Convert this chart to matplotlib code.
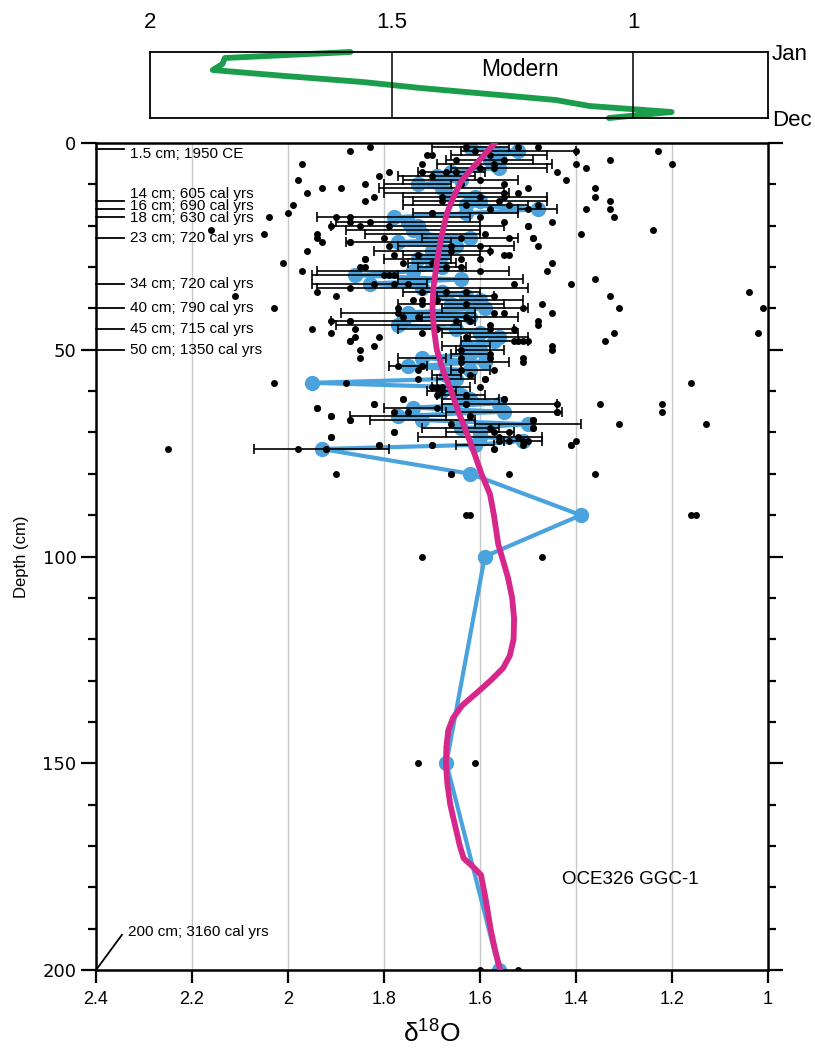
import matplotlib
matplotlib.use('Agg')
import matplotlib.pyplot as plt
import numpy as np

plt.rcParams['font.family'] = ['Liberation Sans', 'DejaVu Sans']

# monthly modern d18O (top panel)
months = [1, 2, 3, 4, 5, 6, 7, 8, 9, 10, 11, 12]
modern_d18o = [1.585, 1.845, 1.85, 1.87, 1.72, 1.56, 1.44, 1.30, 1.16, 1.09, 0.92, 1.05]

# depth-averaged d18O (blue) with 1 sd error
mean_depth = [1, 2, 3, 4, 5, 6, 7, 8, 9, 10, 11, 12, 13, 14, 15, 16, 17, 18, 19, 20,
              21, 22, 23, 24, 25, 26, 27, 28, 29, 30, 31, 32, 33, 34, 35, 36, 37, 38, 39, 40,
              41, 42, 43, 44, 45, 46, 47, 48, 49, 50, 51, 52, 53, 54, 55, 56, 57, 58, 59, 60,
              61, 62, 63, 64, 65, 66, 67, 68, 69, 70, 71, 72, 73, 74, 80, 90, 100, 150, 200]
mean_d18o = [1.62, 1.52, 1.56, 1.58, 1.57, 1.56, 1.66, 1.69, 1.64, 1.73, 1.68, 1.67, 1.61, 1.60, 1.63, 1.48, 1.63, 1.78, 1.75, 1.73,
             1.74, 1.72, 1.62, 1.77, 1.65, 1.70, 1.68, 1.73, 1.70, 1.68, 1.74, 1.86, 1.64, 1.83, 1.72, 1.68, 1.63, 1.60, 1.66, 1.59,
             1.75, 1.62, 1.76, 1.77, 1.65, 1.60, 1.56, 1.57, 1.63, 1.60, 1.62, 1.72, 1.59, 1.75, 1.62, 1.67, 1.65, 1.95, 1.66, 1.68,
             1.64, 1.62, 1.56, 1.74, 1.55, 1.77, 1.72, 1.50, 1.64, 1.60, 1.60, 1.51, 1.61, 1.93, 1.62, 1.39, 1.59, 1.67, 1.56]
mean_err = [0.08, 0.12, 0.10, 0.09, 0.12, 0.10, 0.07, 0.08, 0.12, 0.07, 0.13, 0.13, 0.15, 0.14, 0.13, 0.04, 0.11, 0.16, 0.15, 0.18,
            0.14, 0.12, 0.10, 0.11, 0.12, 0.12, 0.08, 0.07, 0.05, 0.05, 0.20, 0.09, 0.13, 0.12, 0.22, 0.08, 0.06, 0.09, 0.11, 0.09,
            0.14, 0.10, 0.15, 0.13, 0.12, 0.08, 0.06, 0.07, 0.05, 0.05, 0.04, 0.05, 0.05, 0.04, 0.04, 0.03, 0.04, 0.0, 0.04, 0.03,
            0.05, 0.06, 0.12, 0.06, 0.12, 0.10, 0.11, 0.11, 0.08, 0.07, 0.13, 0.04, 0.04, 0.14, 0.0, 0.0, 0.0, 0.0, 0.0]

# individual foraminifera measurements (black dots)
dot_depth = [1, 1, 1, 1, 2, 2, 2, 2, 3, 3, 3, 4, 4, 4, 5, 5, 5, 5, 5, 6, 6, 6,
             7, 7, 7, 7, 7, 8, 8, 9, 9, 9, 10, 10, 10, 11, 11, 11, 11, 12, 12, 12,
             13, 13, 13, 13, 13, 14, 14, 14, 14, 15, 15, 15, 15, 16, 16, 16, 16, 17, 17, 17,
             18, 18, 18, 18, 18, 19, 19, 19, 19, 20, 20, 20, 20, 20, 21, 21, 22, 22, 22, 22,
             23, 23, 23, 23, 23, 23, 24, 24, 24, 25, 25, 25, 25, 26, 26, 26, 27, 27, 27, 27,
             28, 28, 28, 28, 29, 29, 29, 29, 30, 30, 30, 30, 31, 31, 31, 32, 32, 32, 33,
             34, 34, 34, 34, 34, 35, 36, 36, 36, 36, 36, 37, 37, 37, 37, 38, 38, 38, 39, 39, 39,
             40, 40, 40, 40, 40, 41, 41, 41, 41, 42, 42, 42, 43, 43, 43, 43, 43, 43, 44, 44,
             45, 45, 45, 45, 45, 46, 46, 46, 46, 47, 47, 47, 48, 48, 48, 48, 48, 48, 48, 49, 49,
             50, 50, 50, 51, 52, 52, 52, 52, 53, 53, 54, 54, 54, 55, 55, 55, 56, 57, 57, 57,
             58, 58, 58, 59, 59, 59, 59, 60, 61, 61, 61, 62, 62, 62, 62, 63, 63, 63, 63, 63, 63, 63,
             64, 64, 64, 65, 65, 65, 65, 65, 66, 66, 66, 66, 67, 67, 67, 67, 68, 68, 68, 69, 69, 69,
             70, 70, 70, 70, 71, 71, 71, 71, 72, 72, 72, 72, 72, 73, 73, 73, 73, 73, 73, 73,
             74, 74, 74, 74, 74, 74, 80, 80, 80, 80, 80, 90, 90, 90, 90, 100, 100, 150, 150, 200, 200]
dot_d18o = [1.83, 1.52, 1.48, 1.63, 1.87, 1.40, 1.23, 1.61, 1.71, 1.70, 1.58, 1.65, 1.33, 1.55, 1.97, 1.72, 1.40, 1.20, 1.57, 1.38, 1.57, 1.60,
            1.79, 1.72, 1.67, 1.65, 1.44, 1.81, 1.70, 1.98, 1.60, 1.42, 1.84, 1.55, 1.64, 1.93, 1.89, 1.50, 1.36, 1.96, 1.55, 1.52,
            1.82, 1.60, 1.55, 1.36, 1.68, 1.84, 1.68, 1.56, 1.33, 1.99, 1.63, 1.54, 1.48, 1.58, 1.50, 1.38, 1.33, 2.00, 1.70, 1.70,
            2.04, 1.90, 1.87, 1.32, 1.60, 1.87, 1.83, 1.55, 1.45, 1.91, 1.85, 1.79, 1.50, 1.50, 2.16, 1.24, 2.05, 1.94, 1.59, 1.39,
            1.94, 1.80, 1.64, 1.54, 1.49, 1.49, 1.93, 1.87, 1.87, 1.79, 1.60, 1.48, 1.66, 1.96, 1.58, 1.66, 1.78, 1.55, 1.54, 1.73,
            1.84, 1.84, 1.64, 1.60, 2.01, 1.70, 1.76, 1.45, 1.84, 1.67, 1.85, 1.64, 1.97, 1.60, 1.46, 1.80, 1.79, 1.78, 1.36,
            1.82, 1.78, 1.75, 1.53, 1.41, 1.87, 1.94, 1.72, 1.67, 1.63, 1.04, 2.11, 1.90, 1.57, 1.33, 1.74, 1.72, 1.69, 1.72, 1.63, 1.47,
            2.03, 1.77, 1.51, 1.31, 1.01, 1.77, 1.55, 1.57, 1.45, 1.73, 1.76, 1.63, 1.91, 1.87, 1.87, 1.62, 1.65, 1.48, 1.58, 1.48,
            1.95, 1.86, 1.58, 1.69, 1.53, 1.91, 1.72, 1.32, 1.02, 1.81, 1.86, 1.63, 1.87, 1.87, 1.34, 1.53, 1.52, 1.51, 1.50, 1.82, 1.45,
            1.85, 1.64, 1.45, 1.58, 1.85, 1.64, 1.58, 1.51, 1.51, 1.64, 1.77, 1.72, 1.72, 1.73, 1.57, 1.64, 1.62, 1.73, 1.59, 1.59,
            2.03, 1.88, 1.16, 1.70, 1.69, 1.68, 1.60, 1.68, 1.69, 1.63, 1.63, 1.76, 1.55, 1.76, 1.55, 1.82, 1.63, 1.44, 1.35, 1.22, 1.82, 1.63,
            1.94, 1.94, 1.69, 1.44, 1.22, 1.44, 1.78, 1.75, 1.91, 1.62, 1.91, 1.62, 1.87, 1.49, 1.87, 1.49, 1.31, 1.13, 1.66, 1.49, 1.58, 1.49,
            1.78, 1.57, 1.54, 1.78, 1.91, 1.56, 1.52, 1.91, 1.40, 1.51, 1.56, 1.54, 1.50, 1.81, 1.70, 1.41, 1.70, 1.81, 1.51, 1.41,
            2.25, 1.98, 1.92, 1.57, 1.92, 1.57, 1.66, 1.54, 1.36, 1.90, 1.66, 1.63, 1.62, 1.16, 1.15, 1.72, 1.47, 1.73, 1.61, 1.60, 1.52]

# smoothed record (magenta)
smooth_depth = [0, 4, 9, 13, 17, 23, 29, 35, 40, 45, 50, 55, 60, 65, 70, 75, 80, 85, 90, 97, 105,
                110, 115, 120, 124, 127, 130, 133, 136, 139, 142, 146, 150, 155, 160, 165, 170, 173,
                175, 177, 183, 190, 195, 200]
smooth_d18o = [1.569, 1.600, 1.638, 1.655, 1.669, 1.681, 1.690, 1.697, 1.699, 1.696, 1.690, 1.677, 1.660, 1.645, 1.628, 1.612, 1.597, 1.579, 1.571, 1.562, 1.542,
               1.533, 1.529, 1.530, 1.538, 1.552, 1.578, 1.607, 1.637, 1.656, 1.666, 1.670, 1.671, 1.668, 1.662, 1.652, 1.642, 1.634,
               1.615, 1.598, 1.588, 1.578, 1.569, 1.558]

# age control points
age_depth = [1.5, 14, 16, 18, 23, 34, 40, 45, 50]
age_text_depth = [2.6, 12.4, 15.3, 18.2, 23, 34, 40, 45, 50]
age_labels = ['1.5 cm; 1950 CE', '14 cm; 605 cal yrs', '16 cm; 690 cal yrs', '18 cm; 630 cal yrs',
              '23 cm; 720 cal yrs', '34 cm; 720 cal yrs', '40 cm; 790 cal yrs', '45 cm; 715 cal yrs',
              '50 cm; 1350 cal yrs']

xticks = [2.4, 2.2, 2.0, 1.8, 1.6, 1.4, 1.2, 1.0]
xticklabels = ['2.4', '2.2', '2', '1.8', '1.6', '1.4', '1.2', '1']

W, H = 815, 1054
fig = plt.figure(figsize=(W / 100, H / 100), dpi=100)
ax = fig.add_axes([96 / W, 1 - 970 / H, (768 - 96) / W, (970 - 143) / H])
axt = fig.add_axes([150 / W, 1 - 118 / H, (768 - 150) / W, (118 - 52) / H])

blue = '#4aa3dc'
magenta = '#d6288a'
green = '#1a9e4c'

# ---- main panel ----
for xv in xticks[1:-1]:
    ax.axvline(xv, color='#c8c8c8', lw=1.0, zorder=0)

ax.plot(mean_d18o, mean_depth, '-o', color=blue, lw=3.0, ms=10, zorder=2)

md = np.array(mean_depth)
mv = np.array(mean_d18o)
me = np.array(mean_err)
has_err = me > 0
ax.errorbar(mv[has_err], md[has_err], xerr=me[has_err], fmt='none', ecolor='black',
            elinewidth=1.2, capsize=3.5, capthick=1.2, zorder=3)
ax.plot(dot_d18o, dot_depth, 'o', color='black', ms=5, mec='none', zorder=4)
ax.plot(smooth_d18o, smooth_depth, '-', color=magenta, lw=4.2, zorder=5,
        solid_capstyle='round', solid_joinstyle='round')

ax.set_xlim(2.4, 1.0)
ax.set_ylim(200, 0)
ax.set_xticks(xticks)
ax.set_xticklabels(xticklabels)
ax.set_yticks([0, 50, 100, 150, 200])
ax.set_yticks(np.arange(10, 200, 10), minor=True)
ax.tick_params(axis='y', which='both', left=True, right=True, direction='out', width=1.6)
ax.tick_params(axis='y', which='major', length=11, labelsize=13, pad=3)
ax.tick_params(axis='y', which='minor', length=6)
ax.tick_params(axis='x', direction='out', length=9, width=1.6, labelsize=13, pad=6)
for lab in ax.get_yticklabels():
    lab.set_family('DejaVu Sans')
for sp in ax.spines.values():
    sp.set_linewidth(1.8)

ax.set_xlabel('δ$^{\\mathregular{18}}$O', fontsize=19, labelpad=8)
ax.set_ylabel('Depth (cm)', fontsize=12, labelpad=10)

for d, td, lab in zip(age_depth, age_text_depth, age_labels):
    ax.plot([2.4, 2.342], [d, d], color='black', lw=1.3, clip_on=False, zorder=6)
    ax.text(2.329, td, lab, fontsize=11, ha='left', va='center', zorder=6)
ax.plot([2.4, 2.346], [200, 191.5], color='black', lw=1.3, clip_on=False, zorder=6)
ax.text(2.333, 190.8, '200 cm; 3160 cal yrs', fontsize=11, ha='left', va='center')

ax.text(1.43, 178, 'OCE326 GGC-1', fontsize=13.5, ha='left', va='center')

# ---- top panel: modern seasonal cycle ----
axt.plot(modern_d18o, months, '-', color=green, lw=4.2, solid_joinstyle='round',
         solid_capstyle='round', clip_on=False)
axt.axvline(1.5, color='black', lw=1.1)
axt.axvline(1.0, color='black', lw=1.1)
axt.set_xlim(2.0, 0.7205)
axt.set_ylim(12, 1)
axt.xaxis.tick_top()
axt.set_xticks([2.0, 1.5, 1.0])
axt.set_xticklabels(['2', '1.5', '1'])
axt.tick_params(axis='x', length=0, labelsize=16, pad=14)
axt.yaxis.tick_right()
axt.set_yticks([1, 12])
axt.set_yticklabels(['Jan', 'Dec'])
axt.tick_params(axis='y', length=0, labelsize=16, pad=3)
for sp in axt.spines.values():
    sp.set_linewidth(1.3)
axt.text(1.234, 4.0, 'Modern', fontsize=16.5, ha='center', va='center')

fig.savefig('out.png', dpi=100)
